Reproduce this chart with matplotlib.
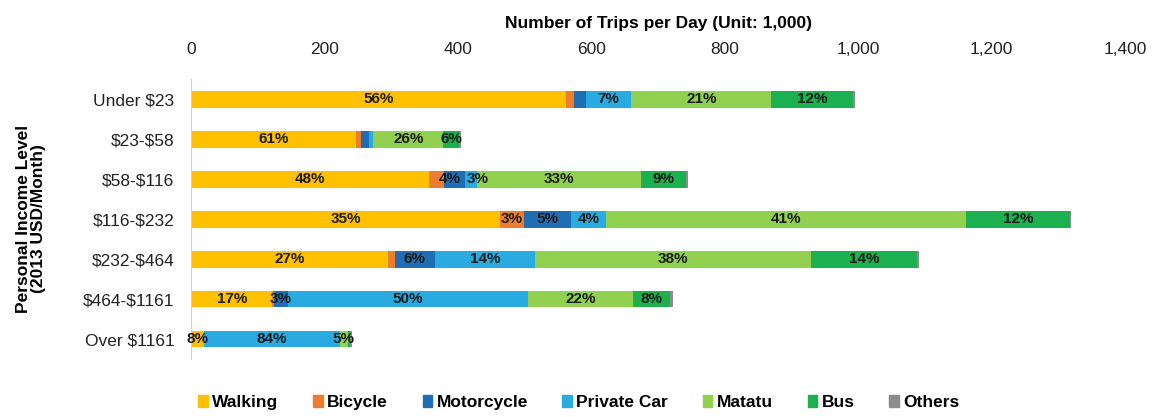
import numpy as np
import matplotlib.pyplot as plt
from matplotlib.patches import Patch
from matplotlib.ticker import FuncFormatter

plt.rcParams['font.family'] = ['Liberation Sans Narrow', 'Liberation Sans', 'DejaVu Sans']
plt.rcParams['text.parse_math'] = False  # los signos $ son texto normal

# viajes diarios (miles) por nivel de ingreso y modo de transporte
income = ['Under $23', '$23-$58', '$58-$116', '$116-$232', '$232-$464', '$464-$1161', 'Over $1161']
modes = ['Walking', 'Bicycle', 'Motorcycle', 'Private Car', 'Matatu', 'Bus', 'Others']
colors = ['#FFC000', '#ED7D31', '#1F6DB5', '#29ABE2', '#92D050', '#1DB04E', '#8C8C8C']

walking = [562, 247, 357, 463, 295, 122, 19]
bicycle = [12, 8, 22, 36, 10, 2, 0]
motorcycle = [18, 12, 31, 70, 61, 21, 1]
private_car = [68, 6, 19, 53, 149, 360, 203]
matatu = [210, 105, 246, 540, 415, 157, 12]
bus = [123, 24, 67, 155, 158, 56, 4]
others = [3, 3, 3, 2, 3, 5, 2]

# modos con etiqueta de porcentaje en cada fila
labeled = [
    ['Walking', 'Private Car', 'Matatu', 'Bus'],
    ['Walking', 'Matatu', 'Bus'],
    ['Walking', 'Motorcycle', 'Private Car', 'Matatu', 'Bus'],
    ['Walking', 'Bicycle', 'Motorcycle', 'Private Car', 'Matatu', 'Bus'],
    ['Walking', 'Motorcycle', 'Private Car', 'Matatu', 'Bus'],
    ['Walking', 'Motorcycle', 'Private Car', 'Matatu', 'Bus'],
    ['Walking', 'Private Car', 'Matatu'],
]
# pequeño desplazamiento (pt) para etiquetas muy juntas
nudge = {(2, 'Motorcycle'): -3, (2, 'Private Car'): 5}

data = np.array([walking, bicycle, motorcycle, private_car, matatu, bus, others], dtype=float)
totals = data.sum(axis=0)

fig = plt.figure(figsize=(11.53, 4.17), dpi=100)
ax = fig.add_axes([0.1657, 0.139, 0.81, 0.671])

y = np.arange(len(income))
left = np.zeros(len(income))
for i, m in enumerate(modes):
    ax.barh(y, data[i], left=left, height=0.42, color=colors[i], linewidth=0)
    for j in range(len(income)):
        if m in labeled[j]:
            pct = data[i][j] / totals[j] * 100
            ax.annotate('{:.0f}%'.format(pct), (left[j] + data[i][j] / 2, y[j]),
                        xytext=(nudge.get((j, m), 0), 0), textcoords='offset points',
                        ha='center', va='center', fontsize=11, fontweight='bold', color='#1a1a1a')
    left += data[i]

ax.set_xlim(0, 1400)
ax.set_ylim(len(income) - 0.5, -0.5)
ax.set_yticks(y)
ax.set_yticklabels(income, fontsize=12.5, color='#222222')
ax.xaxis.tick_top()
ax.xaxis.set_label_position('top')
ax.set_xticks(np.arange(0, 1401, 200))
ax.xaxis.set_major_formatter(FuncFormatter(lambda v, p: '{:,.0f}'.format(v)))
ax.tick_params(axis='x', length=0, pad=16, labelsize=12.5, labelcolor='#222222')
ax.tick_params(axis='y', length=0, pad=12)
ax.set_xlabel('Number of Trips per Day (Unit: 1,000)', fontsize=12.5, fontweight='bold', labelpad=10)

for s in ['top', 'right', 'bottom']:
    ax.spines[s].set_visible(False)
ax.spines['left'].set_color('#D0D0D0')

fig.text(0.027, 0.475, 'Personal Income Level\n(2013 USD/Month)', rotation=90,
         ha='center', va='center', fontsize=12.5, fontweight='bold', linespacing=1.0)

handles = [Patch(color=c, label=m) for m, c in zip(modes, colors)]
fig.legend(handles=handles, loc='lower center', bbox_to_anchor=(0.502, -0.02), ncol=7,
           frameon=False, handlelength=0.55, handleheight=0.7, handletextpad=0.25,
           columnspacing=2.0, prop={'size': 12.5, 'weight': 'bold'})

plt.savefig('out.png', dpi=100)
